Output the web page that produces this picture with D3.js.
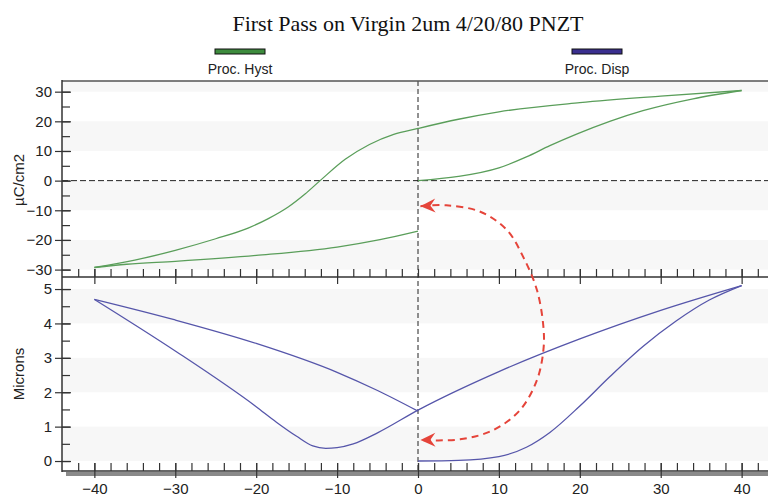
<!DOCTYPE html>
<html>
<head>
<meta charset="utf-8">
<script src="https://cdn.jsdelivr.net/npm/d3@7"></script>
<style>
  body { margin: 0; background: #fff; }
  svg { display: block; font-family: "Liberation Sans", Arial, sans-serif; }
</style>
</head>
<body>
<svg id="chart" width="768" height="498"></svg>
<script>
const chartTitle = 'First Pass on Virgin 2um 4/20/80 PNZT';
const seriesNames = ['Proc. Hyst', 'Proc. Disp'];
const hystLabel = 'µC/cm2';
const dispLabel = 'Microns';

const xTicks = [-40, -30, -20, -10, 0, 10, 20, 30, 40];
const hystTicks = [-30, -20, -10, 0, 10, 20, 30];
const dispTicks = [0, 1, 2, 3, 4, 5];
const hystBands = [[-30, -20], [-10, 0], [10, 20], [30, 40]];
const dispBands = [[0, 1], [2, 3], [4, 5]];

// polarisation loop, three sweeps
const hystVirgin = [[0, 0], [5, 1.4], [10, 4.3], [13.4, 8], [16.3, 11.8], [19.6, 15.7],
  [23.7, 20.0], [27.8, 23.6], [34, 27.6], [40, 30.4]];
const hystDown = [[40, 30.4], [30, 28.5], [20, 26.3], [10, 23.2], [5, 20.7], [0, 17.6],
  [-3, 15.6], [-6, 12.2], [-9, 7.2], [-12.1, 0], [-14, -4.6], [-16, -8.8],
  [-18.5, -12.8], [-21, -16], [-25, -19.6], [-30, -23.5], [-35, -26.8], [-40, -29.3]];
const hystUp = [[-40, -29.3], [-36, -28.2], [-30, -27.2], [-20, -25.2], [-10, -22.4],
  [-4.7, -19.9], [0, -17]];

// displacement loop
const dispVirgin = [[0, 0], [5, 0.02], [10, 0.13], [13.4, 0.4], [16.3, 0.83], [20, 1.6],
  [23.7, 2.45], [27.8, 3.33], [31.9, 4.07], [36, 4.68], [40, 5.1]];
const dispDown = [[40, 5.1], [30, 4.38], [20, 3.55], [10, 2.6], [0, 1.48],
  [-5, 0.82], [-8, 0.5], [-10, 0.39], [-11.4, 0.37], [-13, 0.44], [-15, 0.72],
  [-17.5, 1.13], [-20, 1.58], [-30, 3.2], [-40, 4.7]];
const dispUp = [[-40, 4.7], [-30, 4.1], [-20, 3.42], [-10, 2.58], [-5, 2.05], [0, 1.45]];

// annotation arrow: first part in top panel units, second in bottom panel units
const arrowTop = [[0.3, -8.6], [3.5, -8.3], [7.7, -10.5], [11, -16.7], [13, -25.7]];
const arrowBottom = [[14.7, 4.97], [15.5, 3.9], [15.5, 3.23], [14.7, 2.35], [12.6, 1.48],
  [9.3, 0.9], [5.2, 0.63], [0.3, 0.61]];

const W = 768, H = 498;
const left = 62;
const svg = d3.select('#chart');

const x = d3.scaleLinear().domain([-44, 44]).range([left, 774]);
const yH = d3.scaleLinear().domain([-32.5, 33.6]).range([277, 81]);
const yD = d3.scaleLinear().domain([-0.29, 5.35]).range([471, 277]);

// background bands
function bands(list, y, top, bottom) {
  svg.append('g').selectAll('rect')
    .data(list)
    .join('rect')
      .attr('x', left)
      .attr('width', W - left)
      .attr('y', d => Math.max(top, y(d[1])))
      .attr('height', d => Math.min(bottom, y(d[0])) - Math.max(top, y(d[1])))
      .attr('fill', '#f7f7f7');
}
bands(hystBands, yH, 81, 277);
bands(dispBands, yD, 277, 471);

// zero lines
svg.append('line')
  .attr('x1', left).attr('x2', W)
  .attr('y1', yH(0)).attr('y2', yH(0))
  .attr('stroke', '#222').attr('stroke-dasharray', '6,3');
svg.append('line')
  .attr('x1', x(0)).attr('x2', x(0))
  .attr('y1', 81).attr('y2', 471)
  .attr('stroke', '#222').attr('stroke-dasharray', '5,3');

// curves (each sweep sorted by x so the monotone curve behaves)
const byX = pts => pts.slice().sort((a, b) => a[0] - b[0]);
const lineH = d3.line().x(d => x(d[0])).y(d => yH(d[1])).curve(d3.curveMonotoneX);
const lineD = d3.line().x(d => x(d[0])).y(d => yD(d[1])).curve(d3.curveMonotoneX);

svg.append('g').selectAll('path')
  .data([hystVirgin, hystDown, hystUp].map(byX))
  .join('path')
    .attr('d', lineH)
    .attr('fill', 'none')
    .attr('stroke', '#5a9e5a')
    .attr('stroke-width', 1.3);

svg.append('g').selectAll('path')
  .data([dispVirgin, dispDown, dispUp].map(byX))
  .join('path')
    .attr('d', lineD)
    .attr('fill', 'none')
    .attr('stroke', '#5656aa')
    .attr('stroke-width', 1.3);

// frame and axes
svg.append('line')
  .attr('x1', left).attr('x2', W).attr('y1', 81).attr('y2', 81)
  .attr('stroke', '#555').attr('stroke-width', 1.5);
svg.append('rect')
  .attr('x', left + 4).attr('y', 472).attr('width', W - left - 4).attr('height', 4)
  .attr('fill', '#8a8a8a');

function styleAxis(g) {
  g.select('.domain').remove();
  g.selectAll('.tick line').attr('stroke', '#333').attr('stroke-width', 1.2);
  g.selectAll('.tick text').attr('fill', '#222').style('font-size', '15px');
}

const minor = (lo, hi, step) => d3.range(lo, hi + step / 2, step);

function yAxis(y, ticks, minorTicks) {
  svg.append('g').attr('transform', `translate(${left},0)`)
    .call(d3.axisLeft(y).tickValues(ticks).tickSize(7).tickPadding(3).tickFormat(d3.format('d')))
    .call(styleAxis);
  svg.append('g').attr('transform', `translate(${left},0)`)
    .call(d3.axisLeft(y).tickValues(ticks).tickSize(-9).tickFormat(''))
    .call(styleAxis);
  svg.append('g').attr('transform', `translate(${left},0)`)
    .call(d3.axisLeft(y).tickValues(minorTicks).tickSize(-8).tickFormat(''))
    .call(styleAxis);
}
yAxis(yH, hystTicks, minor(-30, 30, 5));
yAxis(yD, dispTicks, minor(0, 5, 0.5));

function xAxis(yPos, labels) {
  const majors = xTicks.filter(v => labels || v !== 0);
  svg.append('g').attr('transform', `translate(0,${yPos})`)
    .call(d3.axisBottom(x).tickValues(majors).tickSize(7).tickPadding(5)
      .tickFormat(labels ? d3.format('d') : ''))
    .call(styleAxis);
  svg.append('g').attr('transform', `translate(0,${yPos})`)
    .call(d3.axisBottom(x).tickValues(majors).tickSize(-8).tickFormat(''))
    .call(styleAxis);
  svg.append('g').attr('transform', `translate(0,${yPos})`)
    .call(d3.axisBottom(x).tickValues(minor(-42, 44, 2)).tickSize(-8).tickFormat(''))
    .call(styleAxis);
}
xAxis(277, false);
xAxis(471, true);

svg.append('line')
  .attr('x1', left).attr('x2', W).attr('y1', 277).attr('y2', 277)
  .attr('stroke', '#333').attr('stroke-width', 1.5);
svg.append('line')
  .attr('x1', left).attr('x2', W).attr('y1', 471).attr('y2', 471)
  .attr('stroke', '#333').attr('stroke-width', 1.5);
svg.append('line')
  .attr('x1', left).attr('x2', left).attr('y1', 80).attr('y2', 472)
  .attr('stroke', '#333').attr('stroke-width', 1.5);

// red annotation arrow
const arrowPx = arrowTop.map(d => [x(d[0]), yH(d[1])])
  .concat(arrowBottom.map(d => [x(d[0]), yD(d[1])]));
svg.append('path')
  .attr('d', d3.line().curve(d3.curveCatmullRom)(arrowPx))
  .attr('fill', 'none')
  .attr('stroke', '#e5443a')
  .attr('stroke-width', 2)
  .attr('stroke-dasharray', '7,5');

function arrowHead(tip, from) {
  const a = Math.atan2(tip[1] - from[1], tip[0] - from[0]) * 180 / Math.PI;
  svg.append('path')
    .attr('d', 'M0,0L-15,-7L-10,0L-15,7Z')
    .attr('transform', `translate(${tip[0]},${tip[1]}) rotate(${a})`)
    .attr('fill', '#e5443a');
}
arrowHead(arrowPx[0], arrowPx[1]);
arrowHead(arrowPx[arrowPx.length - 1], arrowPx[arrowPx.length - 2]);

// titles and labels
svg.append('text')
  .attr('x', 408).attr('y', 31)
  .attr('text-anchor', 'middle')
  .style('font-family', '"Liberation Serif", "Times New Roman", serif')
  .style('font-size', '22px')
  .attr('fill', '#111')
  .text(chartTitle);

svg.append('text')
  .attr('transform', 'translate(24,180) rotate(-90)')
  .attr('text-anchor', 'middle')
  .style('font-size', '15px').attr('fill', '#222')
  .text(hystLabel);
svg.append('text')
  .attr('transform', 'translate(24,374) rotate(-90)')
  .attr('text-anchor', 'middle')
  .style('font-size', '15px').attr('fill', '#222')
  .text(dispLabel);

// legend
const legendX = [240, 597];
const legendFill = ['#3d8b3d', '#3a2f8f'];
const leg = svg.append('g').selectAll('g')
  .data(seriesNames)
  .join('g')
    .attr('transform', (d, i) => `translate(${legendX[i]},0)`);
leg.append('rect')
  .attr('x', -25).attr('y', 49).attr('width', 50).attr('height', 5)
  .attr('fill', (d, i) => legendFill[i])
  .attr('stroke', '#111').attr('stroke-width', 1);
leg.append('text')
  .attr('y', 74)
  .attr('text-anchor', 'middle')
  .style('font-size', '14px').attr('fill', '#222')
  .text(d => d);
</script>
</body>
</html>
